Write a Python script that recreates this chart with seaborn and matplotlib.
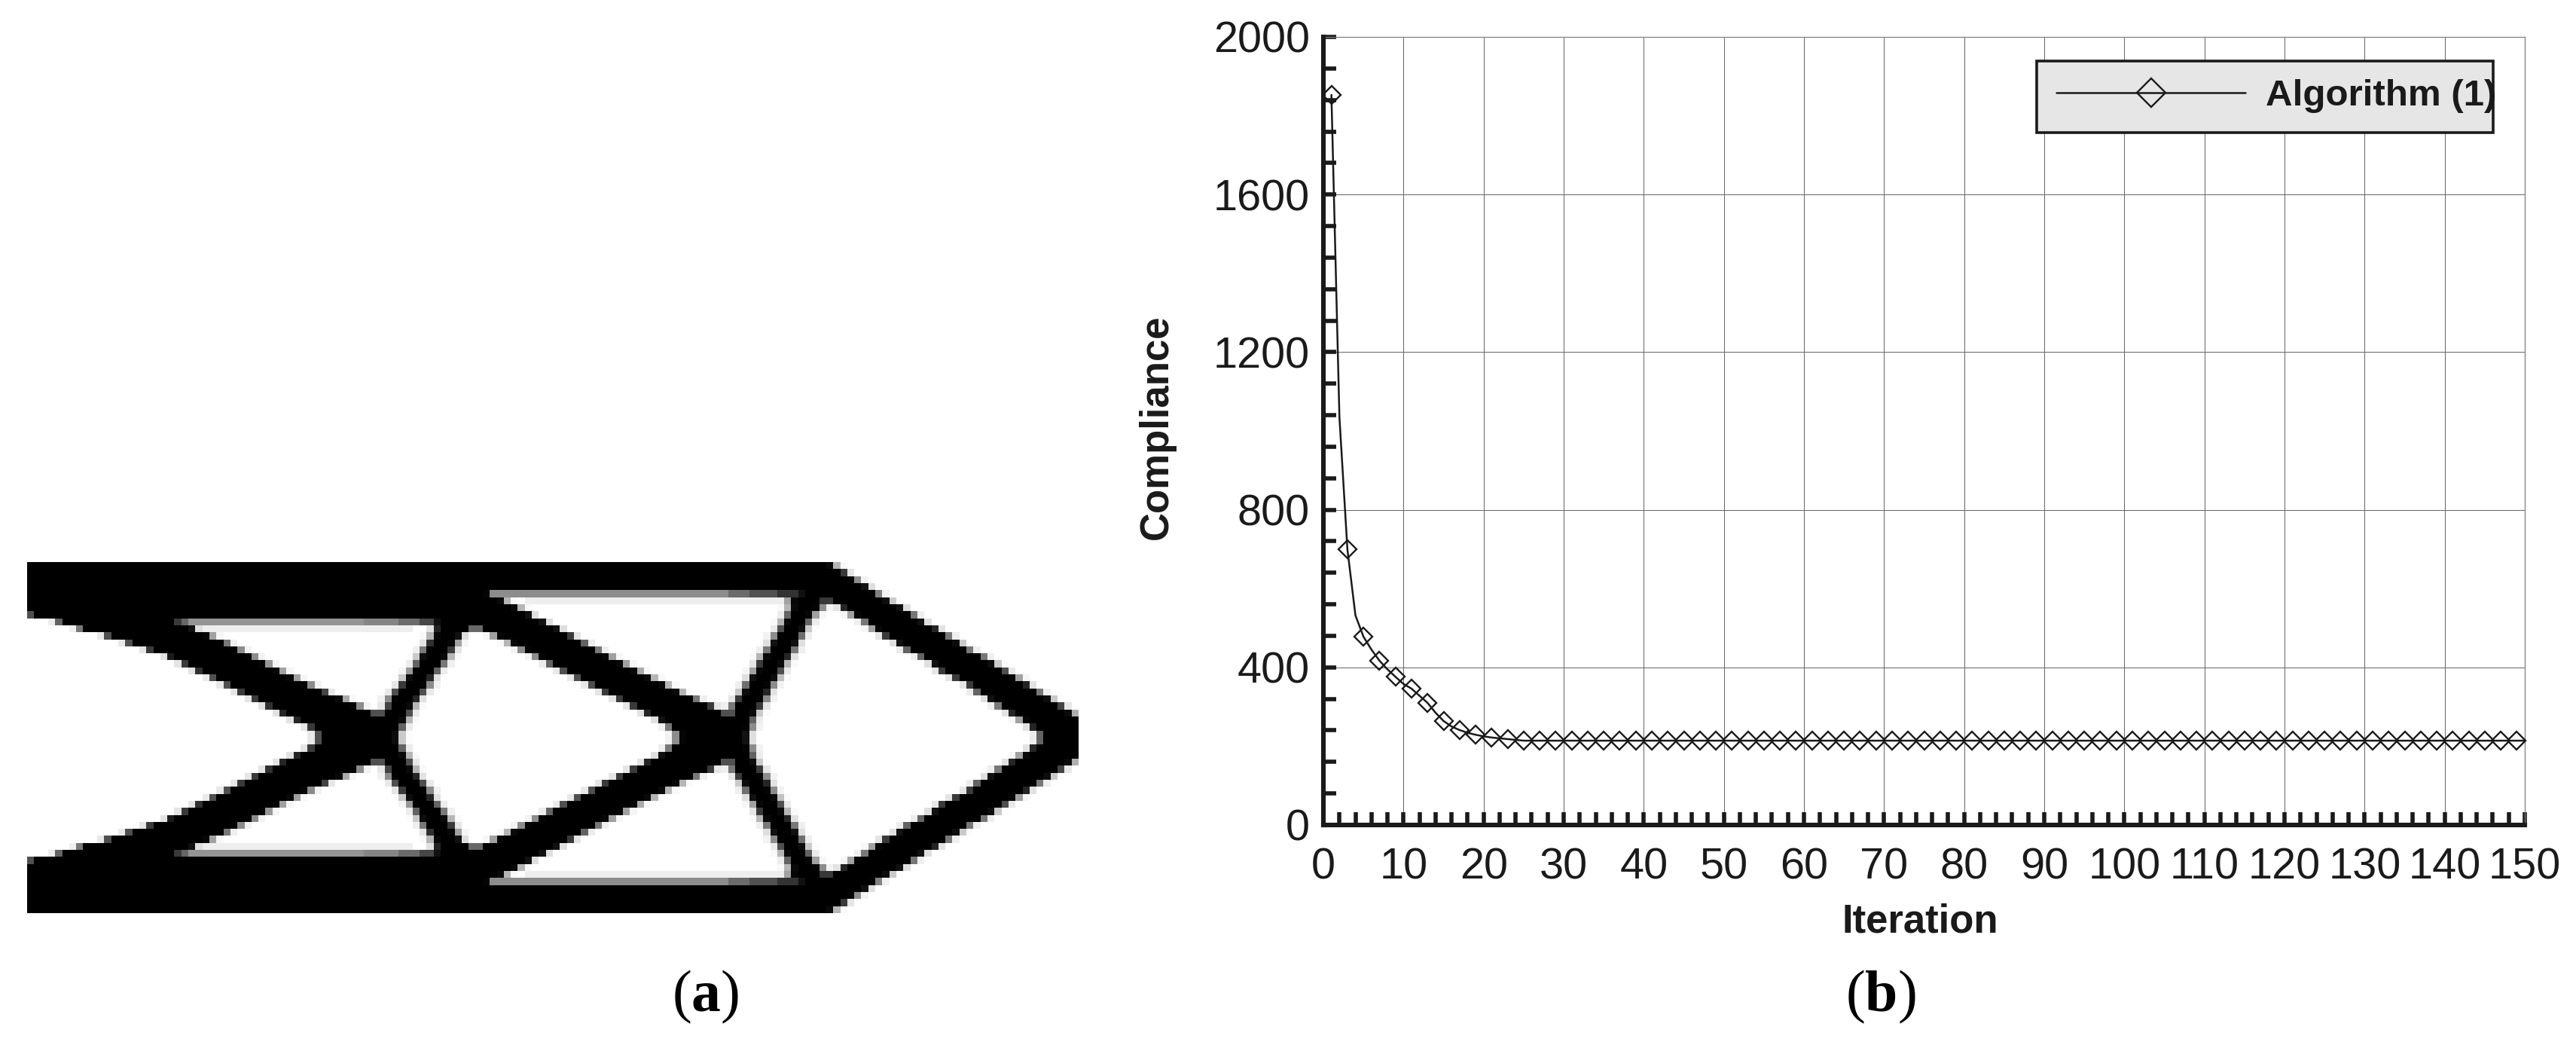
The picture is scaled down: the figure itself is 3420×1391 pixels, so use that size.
import numpy as np
import pandas as pd
import matplotlib
matplotlib.use("Agg")
import matplotlib.pyplot as plt
from matplotlib.patches import Rectangle
import seaborn as sns

# convergence curve, panel (b)
iter_head = list(range(1, 25))
compliance_head = [1853, 1035, 699, 532, 478, 445, 417, 395, 376, 358, 346, 328,
                   310, 285, 264, 250, 241, 234, 229, 225, 222, 220, 218, 216]
iter_tail = list(range(25, 151))
compliance_tail = [214] * 126

x_major = list(range(0, 151, 10))
x_minor = list(range(0, 151, 2))
y_major = [0, 400, 800, 1200, 1600, 2000]
y_minor = list(range(0, 2001, 80))

# topology, panel (a): black spans per mesh row (upper half, lower half is the mirror)
n_cols = 150
top_rows = [
    [(0, 115.2)],
    [(0, 116.8)],
    [(0, 118.4)],
    [(0, 120.0)],
    [(0, 66.4), (110, 121.45)],
    [(0, 68.2), (108.7, 113.7), (114.3, 123.1)],
    [(0, 70.2), (108.8, 113.4), (116.1, 125)],
    [(0.4, 72), (108.4, 112.3), (117.7, 126.5)],
    [(4.4, 21.8), (58, 74), (107.8, 111.6), (119.5, 128)],
    [(7.5, 24.0), (58.1, 63.5), (64.5, 76), (107.3, 111.1), (120.7, 129.9)],
    [(11.3, 26.3), (57.8, 62.0), (66.7, 77.8), (106.6, 110.55), (122.2, 131.5)],
    [(14.3, 28.5), (57.15, 61.3), (68.8, 79.6), (106.0, 110.0), (124, 133.1)],
    [(17.2, 30.4), (56.5, 60.8), (70.6, 81.5), (105.5, 109.5), (125.4, 134.5)],
    [(20.05, 32.4), (55.9, 60.2), (72.6, 83.3), (104.8, 108.9), (127.4, 136.5)],
    [(22.2, 34.35), (55.4, 59.5), (74.4, 85.3), (104.2, 108.2), (129, 138.1)],
    [(24.15, 36.3), (54.65, 58.6), (76.3, 87.25), (103.7, 107.7), (130.2, 139.7)],
    [(26.3, 38.3), (53.9, 57.9), (78.3, 89.2), (103.0, 107.15), (132.2, 141.3)],
    [(28.3, 40.4), (53.2, 57.4), (80.3, 91.2), (102.45, 106.4), (134.2, 142.9)],
    [(30.2, 42.75), (52.3, 56.7), (82.2, 93.2), (101.9, 105.9), (135.4, 144.5)],
    [(32.2, 45.25), (51.6, 55.9), (84.2, 95.5), (101.2, 105.4), (137, 146.1)],
    [(34.15, 47.4), (51.25, 55.2), (86.2, 97.8), (100.5, 104.8), (138.5, 147.75)],
    [(36.1, 49.6), (50.4, 54.7), (88.1, 99.6), (100.4, 104.1), (140.1, 149.2)],
    [(38.1, 54.2), (90, 103.6), (141.7, 150)],
    [(40.2, 53.6), (91.5, 103.4), (143.1, 150)],
    [(41.3, 53.1), (92.6, 103.0), (144.4, 150)],
]
# the grey bands under the chords: row, first col, last col, density
grey_bands = [
    (8, 22, 23, 0.6), (8, 23, 48, 0.42), (8, 48, 53, 0.48), (8, 53, 56, 0.58), (8, 56, 58, 0.72),
    (9, 25, 55, 0.07),
    (4, 67, 100, 0.45), (4, 100, 103, 0.58), (4, 103, 107, 0.68), (4, 107, 110, 0.8),
    (5, 71, 108, 0.07),
]

W, H = 3420, 1391
ink = "#1a1a1a"

sns.set_theme(style="white")
plt.rcParams["font.family"] = ["Liberation Sans", "DejaVu Sans"]
plt.rcParams["mathtext.fontset"] = "custom"
plt.rcParams["mathtext.rm"] = "Liberation Serif"
plt.rcParams["mathtext.bf"] = "Liberation Serif:bold"


def box(left, top, right, bottom):
    return [left / W, 1 - bottom / H, (right - left) / W, (bottom - top) / H]


fig = plt.figure(figsize=(W / 100, H / 100), dpi=100, facecolor="white")

# (a)
density = np.zeros((len(top_rows), n_cols))
for r, spans in enumerate(top_rows):
    for a, b in spans:
        for c in range(int(a), min(int(np.ceil(b)), n_cols)):
            density[r, c] += max(0, min(b, c + 1) - max(a, c))
# source image is slightly soft along the rows
padded = np.pad(density, ((0, 0), (1, 1)), mode="edge")
density = 0.12 * padded[:, :-2] + 0.76 * padded[:, 1:-1] + 0.12 * padded[:, 2:]
density = np.clip(density * 1.06, 0, 1)
for r, a, b, level in grey_bands:
    density[r, a:b] = np.maximum(density[r, a:b], level)
density = np.vstack([density, density[::-1]])

ax_img = fig.add_axes(box(36, 746, 1432, 1212))
sns.heatmap(density, cmap="gray_r", vmin=0, vmax=1, cbar=False,
            xticklabels=False, yticklabels=False, ax=ax_img)
ax_img.set_xlabel("")
ax_img.set_ylabel("")

# (b)
df = pd.DataFrame({"iteration": iter_head + iter_tail,
                   "compliance": compliance_head + compliance_tail})

ax = fig.add_axes(box(1757, 49, 3352, 1095))
ax.set_axisbelow(True)
sns.lineplot(data=df, x="iteration", y="compliance", ax=ax, color=ink, lw=1.8,
             marker="D", markersize=12, markerfacecolor="none", markeredgecolor=ink,
             markeredgewidth=1.7, markevery=2, label="Algorithm (1)", legend=False,
             clip_on=False, zorder=3)
ax.set_xlim(0, 150)
ax.set_ylim(0, 2000)
ax.set_xticks(x_major)
ax.set_yticks(y_major)
ax.set_xticks(x_minor, minor=True)
ax.set_yticks(y_minor, minor=True)
ax.grid(True, which="major", color="#6a6a6a", lw=0.75)
ax.grid(False, which="minor")
ax.tick_params(axis="both", which="both", direction="in", length=12.5, width=4,
               color=ink, left=True, bottom=True)
ax.tick_params(axis="x", which="major", labelsize=41.5, labelcolor=ink, pad=21)
ax.tick_params(axis="y", which="major", labelsize=41.5, labelcolor=ink, pad=13)
for side in ["left", "bottom"]:
    ax.spines[side].set_linewidth(4.4)
    ax.spines[side].set_color(ink)
    ax.spines[side].set_zorder(5)
for side in ["top", "right"]:
    ax.spines[side].set_linewidth(0.9)
    ax.spines[side].set_color("#7f7f7f")
ax.set_xlabel("")
ax.set_ylabel("")

fig.text(2549 / W, 1 - 1224 / H, "Iteration", fontsize=38, fontweight="bold",
         color=ink, ha="center", va="center")
fig.text(1536 / W, 1 - 567 / H, "Compliance", fontsize=38, fontweight="bold",
         color=ink, ha="center", va="center", rotation=90)

# legend: text runs up to the frame's right edge, so the frame is its own patch
ax.add_patch(Rectangle((2704 / W, 1 - 176 / H), 606 / W, 95 / H, transform=fig.transFigure,
                       facecolor="#e6e6e6", edgecolor=ink, lw=2.6, zorder=4))
handles, labels = ax.get_legend_handles_labels()
leg = ax.legend(handles, labels, loc="center left", bbox_to_anchor=(2730 / W, 1 - 128 / H),
                bbox_transform=fig.transFigure, frameon=False, borderpad=0, borderaxespad=0,
                handlelength=5.1, handletextpad=0.54, markerscale=1.6,
                prop={"family": "Liberation Sans", "weight": "bold", "size": 35.5})
for t in leg.get_texts():
    t.set_color(ink)

# captions
fig.text(937 / W, 1 - 1323 / H, r"$\mathrm{(}\mathbf{a}\mathrm{)}$", fontsize=56,
         color="black", ha="center", va="center")
fig.text(2497 / W, 1 - 1323 / H, r"$\mathrm{(}\mathbf{b}\mathrm{)}$", fontsize=56,
         color="black", ha="center", va="center")

fig.savefig("out.png", dpi=100, facecolor="white")
